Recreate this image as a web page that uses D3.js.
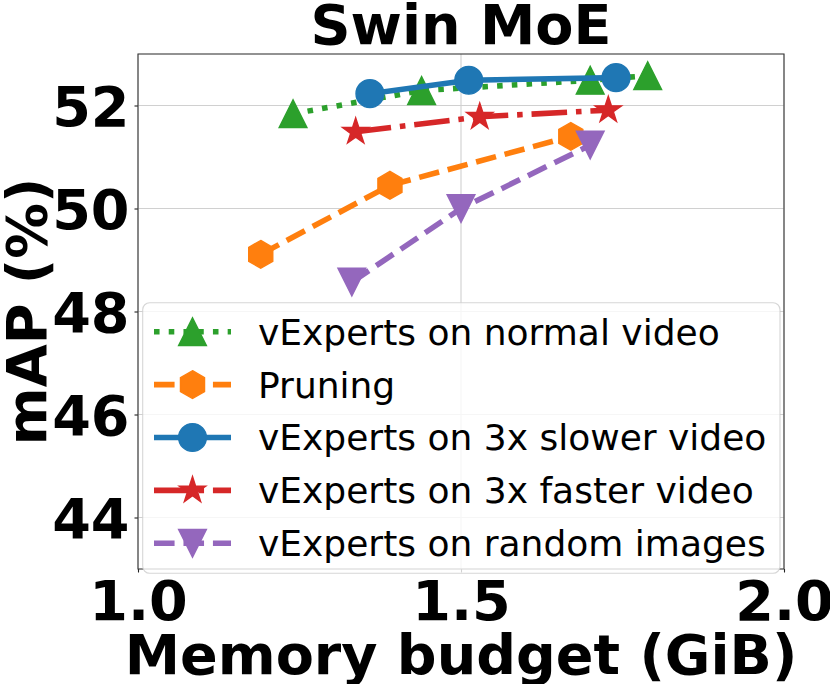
<!DOCTYPE html>
<html>
<head>
<meta charset="utf-8">
<script src="https://cdn.jsdelivr.net/npm/d3@7"></script>
<style>
    html, body { margin: 0; padding: 0; background: #fff; }
    svg { display: block; font-family: "DejaVu Sans", sans-serif; }
</style>
</head>
<body>
<svg id="chart" width="830" height="684"></svg>
<script>
// memory budget (GiB) and mAP (%) for each run
const memNormal  = [1.240, 1.439, 1.700, 1.789];
const mapNormal  = [51.84, 52.29, 52.49, 52.58];
const memPruning = [1.190, 1.390, 1.670];
const mapPruning = [49.11, 50.45, 51.40];
const memSlower  = [1.359, 1.512, 1.740];
const mapSlower  = [52.23, 52.49, 52.54];
const memFaster  = [1.337, 1.529, 1.728];
const mapFaster  = [51.49, 51.78, 51.91];
const memRandom  = [1.331, 1.500, 1.700];
const mapRandom  = [48.57, 50.00, 51.23];

const xTicks = [1.0, 1.5, 2.0];
const yTicks = [44, 46, 48, 50, 52];

const seriesNames = [
    "vExperts on normal video",
    "Pruning",
    "vExperts on 3x slower video",
    "vExperts on 3x faster video",
    "vExperts on random images"
];

const chartWidth = 830
const chartHeight = 684
const plot = { left: 138, right: 784, top: 54, bottom: 569 };
const lineWidth = 5.56;
const markerSize = 27.8;
const bigFont = 55.6;

// matplotlib-like markers, centred on their bounding box
function polygon(context, pts) {
    context.moveTo(pts[0][0], pts[0][1]);
    for (let i = 1; i < pts.length; i++) context.lineTo(pts[i][0], pts[i][1]);
    context.closePath();
}
const markers = {
    triUp: { draw(context, size) { const r = Math.sqrt(size) / 2; polygon(context, [[0, -r], [-r, r], [r, r]]); } },
    triDown: { draw(context, size) { const r = Math.sqrt(size) / 2; polygon(context, [[0, r], [-r, -r], [r, -r]]); } },
    circle: { draw(context, size) { const r = Math.sqrt(size) / 2; context.moveTo(r, 0); context.arc(0, 0, r, 0, 2 * Math.PI); } },
    hexagon: { draw(context, size) {
        const r = Math.sqrt(size) / 2;
        polygon(context, d3.range(6).map(i => {
            const a = -Math.PI / 2 + i * Math.PI / 3;
            return [r * Math.cos(a), r * Math.sin(a)];
        }));
    } },
    star: { draw(context, size) {
        const r = Math.sqrt(size) / 2, ri = r * 0.381966;
        polygon(context, d3.range(10).map(i => {
            const a = -Math.PI / 2 + i * Math.PI / 5;
            const rr = i % 2 ? ri : r;
            return [rr * Math.cos(a), rr * Math.sin(a)];
        }));
    } }
};

const lw = lineWidth;
const series = [
    { name: seriesNames[0], x: memNormal,  y: mapNormal,  color: "#2ca02c", marker: markers.triUp,   dash: `${1 * lw},${1.65 * lw}` },
    { name: seriesNames[1], x: memPruning, y: mapPruning, color: "#ff7f0e", marker: markers.hexagon, dash: `${3.7 * lw},${1.6 * lw}` },
    { name: seriesNames[2], x: memSlower,  y: mapSlower,  color: "#1f77b4", marker: markers.circle,  dash: null },
    { name: seriesNames[3], x: memFaster,  y: mapFaster,  color: "#d62728", marker: markers.star,    dash: `${6.4 * lw},${1.6 * lw},${1 * lw},${1.6 * lw}` },
    { name: seriesNames[4], x: memRandom,  y: mapRandom,  color: "#9467bd", marker: markers.triDown, dash: `${3.7 * lw},${1.6 * lw}` }
];

const svg = d3.select("#chart");

const x = d3.scaleLinear().domain([1.0, 2.0]).range([plot.left, plot.right]);
const y = d3.scaleLinear().domain([43, 53]).range([plot.bottom, plot.top]);

// grid
svg.append("g").selectAll("line").data(xTicks).enter().append("line")
    .attr("x1", d => x(d)).attr("x2", d => x(d))
    .attr("y1", plot.top).attr("y2", plot.bottom)
    .attr("stroke", "#d0d0d0").attr("stroke-width", 1.1);
svg.append("g").selectAll("line").data(yTicks).enter().append("line")
    .attr("x1", plot.left).attr("x2", plot.right)
    .attr("y1", d => y(d)).attr("y2", d => y(d))
    .attr("stroke", "#d0d0d0").attr("stroke-width", 1.1);

// axes
const xAxis = d3.axisBottom(x).tickValues(xTicks).tickFormat(d3.format(".1f")).tickSize(3.5).tickPadding(8);
const yAxis = d3.axisLeft(y).tickValues(yTicks).tickFormat(d3.format("d")).tickSize(3.5).tickPadding(5);

const gx = svg.append("g").attr("transform", `translate(0,${plot.bottom})`).call(xAxis);
const gy = svg.append("g").attr("transform", `translate(${plot.left},0)`).call(yAxis);
[gx, gy].forEach(g => {
    g.select(".domain").remove();
    g.selectAll(".tick line").attr("stroke", "#222").attr("stroke-width", 1.1);
    g.selectAll(".tick text")
        .attr("fill", "#000")
        .style("font-family", "DejaVu Sans")
        .style("font-weight", "bold")
        .style("font-size", bigFont + "px");
});
gx.selectAll(".tick text").attr("dy", "0.71em");
gy.selectAll(".tick text").attr("dy", "0.36em");

// frame
svg.append("rect")
    .attr("x", plot.left).attr("y", plot.top)
    .attr("width", plot.right - plot.left).attr("height", plot.bottom - plot.top)
    .attr("fill", "none").attr("stroke", "#3a3a3a").attr("stroke-width", 1.1);

// lines + markers, in plotting order
const lineGen = d3.line().x(d => x(d[0])).y(d => y(d[1]));
series.forEach(s => {
    const pts = s.x.map((v, i) => [v, s.y[i]]);
    const g = svg.append("g");
    g.append("path")
        .datum(pts)
        .attr("d", lineGen)
        .attr("fill", "none")
        .attr("stroke", s.color)
        .attr("stroke-width", lineWidth)
        .attr("stroke-linecap", s.dash ? "butt" : "square")
        .attr("stroke-linejoin", "round")
        .attr("stroke-dasharray", s.dash);
    g.selectAll("path.mk").data(pts).enter().append("path")
        .attr("class", "mk")
        .attr("d", d3.symbol().type(s.marker).size(markerSize * markerSize))
        .attr("transform", d => `translate(${x(d[0])},${y(d[1])})`)
        .attr("fill", s.color)
        .attr("stroke", s.color)
        .attr("stroke-width", 1.4);
});

// titles
svg.append("text")
    .attr("x", (plot.left + plot.right) / 2).attr("y", 44)
    .attr("text-anchor", "middle")
    .style("font-weight", "bold").style("font-size", bigFont + "px")
    .text("Swin MoE");

svg.append("text")
    .attr("x", (plot.left + plot.right) / 2).attr("y", 674)
    .attr("text-anchor", "middle")
    .style("font-weight", "bold").style("font-size", bigFont + "px")
    .text("Memory budget (GiB)");

svg.append("text")
    .attr("transform", `translate(46,${(plot.top + plot.bottom) / 2}) rotate(-90)`)
    .attr("text-anchor", "middle")
    .style("font-weight", "bold").style("font-size", bigFont + "px")
    .text("mAP (%)");

// legend
const legend = { left: 142.7, right: 780, top: 302.7, bottom: 573.3, firstRow: 331.7, rowStep: 52.9 };
const lg = svg.append("g");
lg.append("rect")
    .attr("x", legend.left).attr("y", legend.top)
    .attr("width", legend.right - legend.left).attr("height", legend.bottom - legend.top)
    .attr("rx", 7).attr("ry", 7)
    .attr("fill", "#fff").attr("fill-opacity", 0.8)
    .attr("stroke", "#cccccc").attr("stroke-opacity", 0.8).attr("stroke-width", 1.1);

const rows = lg.selectAll("g.row").data(series).enter().append("g")
    .attr("class", "row")
    .attr("transform", (d, i) => `translate(0,${legend.firstRow + i * legend.rowStep})`);
rows.append("line")
    .attr("x1", 154).attr("x2", 231).attr("y1", 0).attr("y2", 0)
    .attr("stroke", d => d.color)
    .attr("stroke-width", lineWidth)
    .attr("stroke-dasharray", d => d.dash);
rows.append("path")
    .attr("d", d => d3.symbol().type(d.marker).size(markerSize * markerSize)())
    .attr("transform", "translate(192.5,0)")
    .attr("fill", d => d.color)
    .attr("stroke", d => d.color)
    .attr("stroke-width", 1.4);
rows.append("text")
    .attr("x", 258).attr("y", 0).attr("dy", "0.36em")
    .style("font-size", "36px")
    .attr("fill", "#000")
    .text(d => d.name);
</script>
</body>
</html>
